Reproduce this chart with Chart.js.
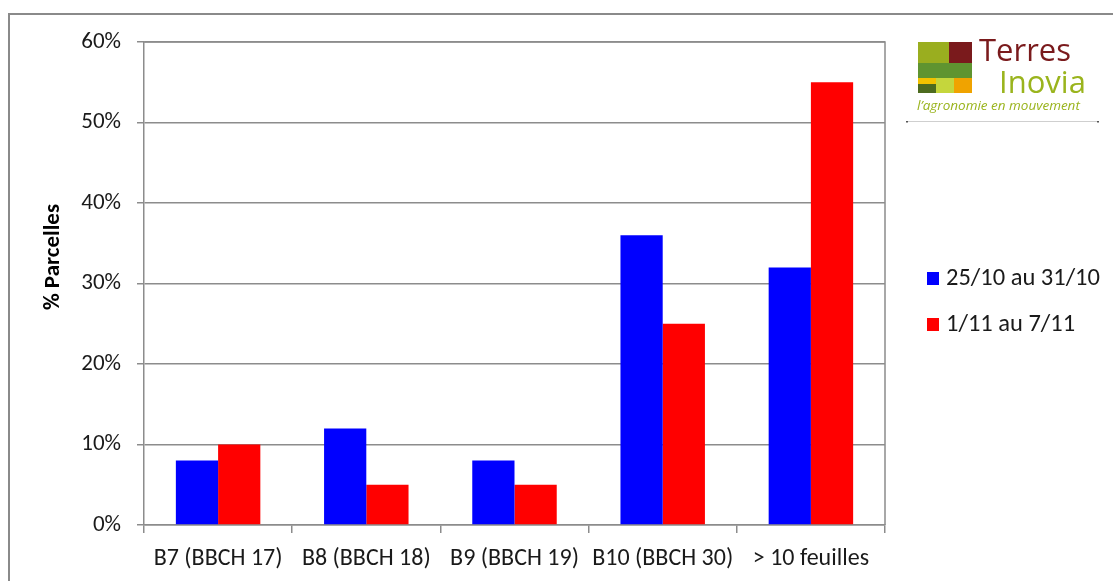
<!DOCTYPE html>
<html>
<head>
<meta charset="utf-8">
<script src="https://cdn.jsdelivr.net/npm/chart.js@4.4.1/dist/chart.umd.min.js"></script>
<style>
  html, body { margin: 0; padding: 0; background: #ffffff; }
  #wrap { width: 1113px; height: 581px; position: relative; }
</style>
</head>
<body>
<div id="wrap"><canvas id="c" width="1113" height="581"></canvas></div>
<script>
// Stades observés
const categories = ['B7 (BBCH 17)', 'B8 (BBCH 18)', 'B9 (BBCH 19)', 'B10 (BBCH 30)', '> 10 feuilles'];
// % de parcelles par période d'observation
const periodeLabels = ['25/10 au 31/10', '1/11 au 7/11'];
const periode1 = [8, 12, 8, 36, 32];
const periode2 = [10, 5, 5, 25, 55];
const yTickValues = [0, 10, 20, 30, 40, 50, 60];
const yTitle = '% Parcelles';

const FONT = "Carlito, Calibri, 'Open Sans', sans-serif";
const GRID = '#8c8c8c';

// Cadre extérieur, bordure de la zone de tracé, titre d'axe, légende et logo
const decor = {
  id: 'decor',
  beforeDraw(chart) {
    const ctx = chart.ctx;
    ctx.save();
    ctx.fillStyle = '#ffffff';
    ctx.fillRect(0, 0, chart.width, chart.height);
    ctx.strokeStyle = '#8a8a8a';
    ctx.lineWidth = 2;
    ctx.strokeRect(9, 14, chart.width + 20, chart.height + 20);
    ctx.restore();
  },
  afterDraw(chart) {
    const ctx = chart.ctx;
    const a = chart.chartArea;
    ctx.save();
    ctx.strokeStyle = GRID;
    ctx.lineWidth = 1.5;
    ctx.beginPath();
    ctx.moveTo(a.left, a.top);
    ctx.lineTo(a.right, a.top);
    ctx.lineTo(a.right, a.bottom);
    ctx.stroke();

    // titre de l'axe vertical
    ctx.save();
    ctx.translate(53, 257);
    ctx.rotate(-Math.PI / 2);
    ctx.font = "bold 23px " + FONT;
    ctx.fillStyle = '#000000';
    ctx.textAlign = 'center';
    ctx.textBaseline = 'middle';
    ctx.fillText(yTitle, 0, 0);
    ctx.restore();

    // légende
    ctx.font = "24.5px " + FONT;
    ctx.textBaseline = 'middle';
    ctx.textAlign = 'left';
    const rows = [278, 324];
    chart.data.datasets.forEach((ds, i) => {
      ctx.fillStyle = ds.backgroundColor;
      ctx.fillRect(927, rows[i] - 6, 12, 13);
      ctx.fillStyle = '#1a1a1a';
      ctx.fillText(ds.label, 946, rows[i] + 1);
    });

    // logo Terres Inovia
    ctx.fillStyle = '#9aae1f'; ctx.fillRect(918, 42, 31, 21);
    ctx.fillStyle = '#7a1a1c'; ctx.fillRect(949, 42, 23, 21);
    ctx.fillStyle = '#5f9430'; ctx.fillRect(918, 63, 54, 15);
    ctx.fillStyle = '#f2c200'; ctx.fillRect(918, 78, 18, 6);
    ctx.fillStyle = '#4d6b1f'; ctx.fillRect(918, 84, 18, 9);
    ctx.fillStyle = '#c5d63c'; ctx.fillRect(936, 78, 18, 15);
    ctx.fillStyle = '#f0a300'; ctx.fillRect(954, 78, 18, 15);
    ctx.textBaseline = 'alphabetic';
    ctx.font = "500 31px 'Open Sans', sans-serif";
    ctx.fillStyle = '#7a1a1c';
    ctx.fillText('Terres', 979, 61);
    ctx.fillStyle = '#9ab41d';
    ctx.fillText('Inovia', 999, 93);
    ctx.font = "italic 13.5px 'Open Sans', sans-serif";
    ctx.fillText('l\u2019agronomie en mouvement', 917, 110);
    ctx.strokeStyle = '#cfcfcf';
    ctx.lineWidth = 1;
    ctx.beginPath();
    ctx.moveTo(907, 121.5); ctx.lineTo(1098, 121.5);
    ctx.stroke();
    ctx.fillStyle = '#555555';
    ctx.fillRect(906, 121, 2, 1.5);
    ctx.fillRect(1097, 121, 2, 1.5);
    ctx.restore();
  }
};

new Chart(document.getElementById('c'), {
  type: 'bar',
  data: {
    labels: categories,
    datasets: [
      { label: periodeLabels[0], data: periode1, backgroundColor: '#0000ff', borderWidth: 0 },
      { label: periodeLabels[1], data: periode2, backgroundColor: '#ff0000', borderWidth: 0 }
    ]
  },
  options: {
    responsive: false,
    animation: false,
    devicePixelRatio: 1,
    layout: { padding: { left: 0, top: 42, right: 228, bottom: 0 } },
    datasets: { bar: { categoryPercentage: 0.57, barPercentage: 1.0 } },
    plugins: { legend: { display: false }, tooltip: { enabled: false } },
    scales: {
      x: {
        grid: { offset: true, drawOnChartArea: false, drawTicks: true, tickLength: 8, color: GRID, lineWidth: 1.5 },
        border: { display: true, color: GRID, width: 1.5 },
        ticks: { color: '#1a1a1a', font: { family: FONT, size: 24 }, padding: 12, maxRotation: 0, autoSkip: false },
        afterFit(scale) { scale.height = 56; }
      },
      y: {
        min: 0, max: 60,
        afterBuildTicks(scale) { scale.ticks = yTickValues.map(v => ({ value: v })); },
        grid: { color: GRID, lineWidth: 1.5, drawTicks: true, tickLength: 7 },
        border: { display: true, color: GRID, width: 1.5 },
        ticks: { color: '#1a1a1a', font: { family: FONT, size: 23 }, padding: 16, callback: v => v + '%' },
        afterFit(scale) { scale.width = 144; }
      }
    }
  },
  plugins: [decor]
});
</script>
</body>
</html>
